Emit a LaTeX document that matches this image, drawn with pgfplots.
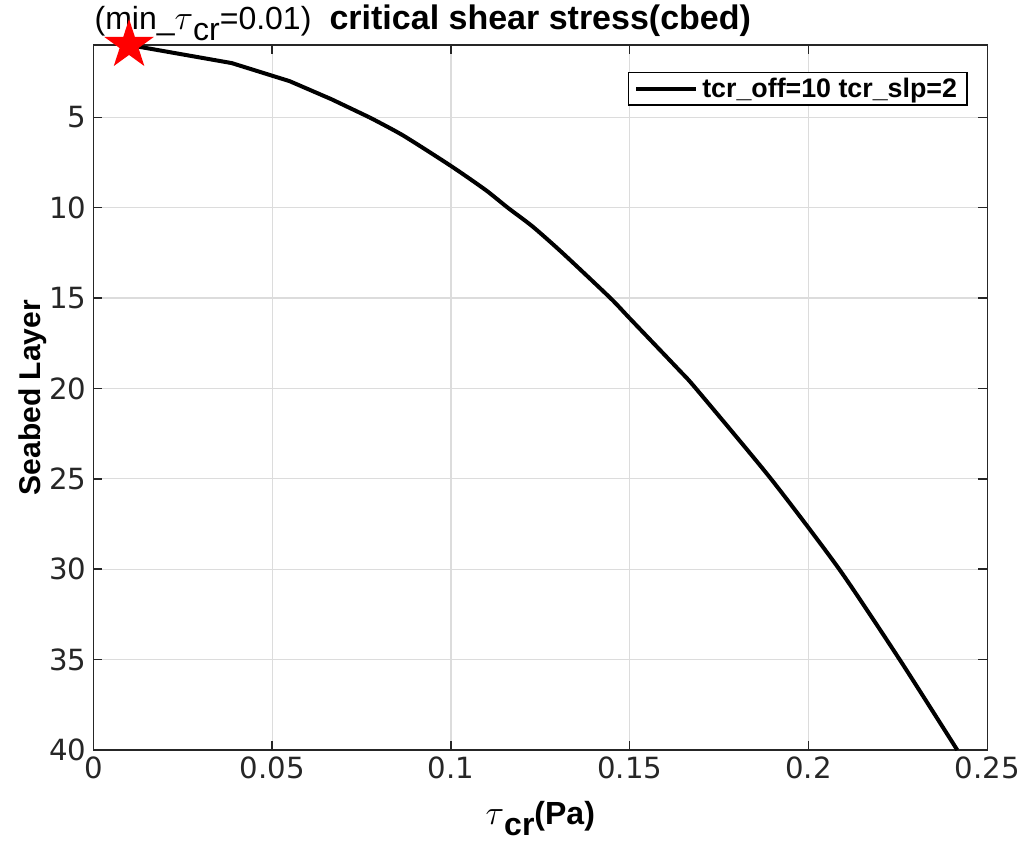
\documentclass[border=0pt]{standalone}
\usepackage{pgfplots}
\pgfplotsset{compat=1.18}
\usepackage{fontspec}
\setmainfont{Liberation Sans}
\newfontfamily\tickfont{DejaVu Sans}
\definecolor{axgray}{HTML}{262626}
\definecolor{gridgray}{HTML}{DCDCDC}
\pgfdeclareplotmark{fstar}{%
  \pgfpathmoveto{\pgfqpointpolar{90}{\pgfplotmarksize}}%
  \pgfpathlineto{\pgfqpointpolar{126}{0.382\pgfplotmarksize}}%
  \pgfpathlineto{\pgfqpointpolar{162}{\pgfplotmarksize}}%
  \pgfpathlineto{\pgfqpointpolar{198}{0.382\pgfplotmarksize}}%
  \pgfpathlineto{\pgfqpointpolar{234}{\pgfplotmarksize}}%
  \pgfpathlineto{\pgfqpointpolar{270}{0.382\pgfplotmarksize}}%
  \pgfpathlineto{\pgfqpointpolar{306}{\pgfplotmarksize}}%
  \pgfpathlineto{\pgfqpointpolar{342}{0.382\pgfplotmarksize}}%
  \pgfpathlineto{\pgfqpointpolar{18}{\pgfplotmarksize}}%
  \pgfpathlineto{\pgfqpointpolar{54}{0.382\pgfplotmarksize}}%
  \pgfpathclose
  \pgfusepathqfill
}
\pgfplotstableread{
x y
0.0100 1
0.0387 2
0.0549 3
0.0666 4
0.0772 5
}\topdata
\pgfplotstableread{
x y
0.0772 5
0.0866 6
0.1000 7.69
0.1097 9.02
0.1159 10
0.1229 11.05
0.1313 12.52
0.1446 15
0.1500 16.12
0.1639 19
0.1685 20
0.1895 25
0.2086 30
0.2255 35
0.2416 40
}\tcrdata
\begin{document}
\begin{tikzpicture}
\begin{axis}[
  name=ax,
  scale only axis,
  width=447pt, height=352.5pt,
  xmin=0, xmax=0.25, ymin=1, ymax=40,
  y dir=reverse,
  xtick={0,0.05,0.1,0.15,0.2,0.25},
  xticklabels={0,0.05,0.1,0.15,0.2,0.25},
  ytick={5,10,15,20,25,30,35,40},
  yticklabels={5,10,15,20,25,30,35,40},
  tick label style={font=\tickfont\fontsize{14.6}{16}\selectfont, text=axgray},
  grid=major,
  major grid style={gridgray, line width=0.6pt},
  axis line style={axgray, line width=0.75pt},
  major tick style={axgray, line width=0.75pt},
  major tick length=4.5pt,
  tick align=inside,
  clip=false,
  xlabel={\fontsize{16}{18}\selectfont\bfseries $\tau$\raisebox{-5.5pt}{cr}(Pa)},
  xlabel style={at={(axis description cs:0.5,-0.106)}, anchor=base, inner sep=0pt},
  ylabel={\fontsize{15}{17}\selectfont\bfseries Seabed Layer},
  ylabel style={at={(axis description cs:-0.0593,0.5)}, anchor=base, rotate=0, inner sep=0pt},
  legend style={at={(axis description cs:0.978,0.9617)}, anchor=north east,
    draw=black, line width=0.6pt, fill=white,
    font=\fontsize{13.4}{15}\selectfont\bfseries, inner xsep=3pt, inner ysep=0.5pt},
  legend cell align=left,
  legend image code/.code={\draw[#1, line width=2pt] (0pt,0pt) -- (30pt,0pt);},
]
\addplot[black, line width=2pt, line join=round] table[x=x,y=y] {\topdata};
\addlegendentry{tcr\_off=10 tcr\_slp=2}
\addplot[black, line width=2pt, smooth, tension=0.4, forget plot] table[x=x,y=y] {\tcrdata};
\addplot[only marks, mark=fstar, mark size=13pt, red, forget plot] coordinates {(0.01,1)};
\node[anchor=base, inner sep=0pt] at (axis description cs:0.5,1.0213)
  {\fontsize{17}{19}\selectfont\bfseries critical shear stress(cbed)};
\node[anchor=base west, inner sep=0pt] at (axis description cs:0.001,1.0213)
  {\fontsize{16}{18}\selectfont (min\_$\tau$\raisebox{-5.5pt}{cr}=0.01)};
\end{axis}
\pgfresetboundingbox
\path ([xshift=-46.65pt,yshift=-47.5pt]ax.south west) rectangle ([xshift=19.35pt,yshift=22.5pt]ax.north east);
\end{tikzpicture}
\end{document}
